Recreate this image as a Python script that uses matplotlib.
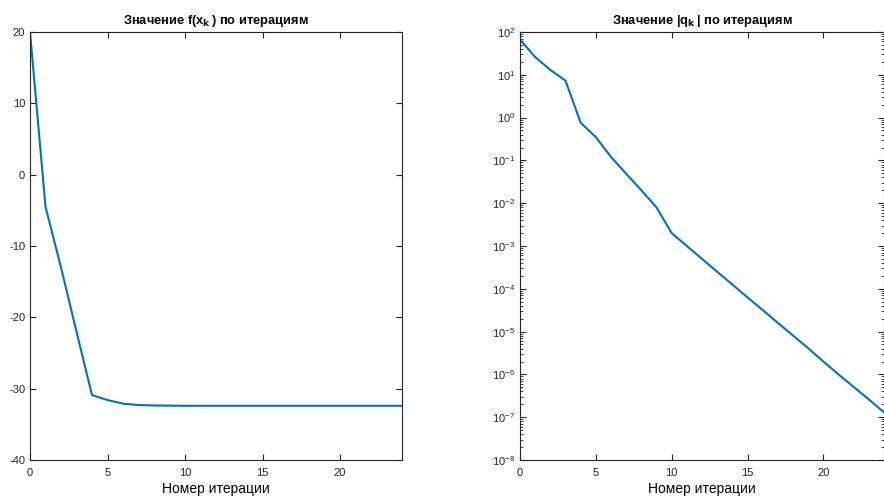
import matplotlib.pyplot as plt
from matplotlib.ticker import LogLocator, NullFormatter

plt.rcParams['font.family'] = ['Liberation Sans', 'DejaVu Sans']
plt.rcParams['axes.unicode_minus'] = False

# данные по итерациям
iters = list(range(25))
f_vals = [20.0, -4.5, -13.0, -22.0, -30.9, -31.6, -32.1, -32.3, -32.35, -32.38,
          -32.4, -32.4, -32.4, -32.4, -32.4, -32.4, -32.4, -32.4, -32.4, -32.4,
          -32.4, -32.4, -32.4, -32.4, -32.4]
q_vals = [67.0, 26.0, 13.0, 7.3, 0.76, 0.35, 0.12, 0.049, 0.020, 0.0080,
          2.0e-3, 1.0e-3, 5.0e-4, 2.5e-4, 1.26e-4, 6.3e-5, 3.2e-5, 1.6e-5, 8.1e-6,
          4.1e-6, 2.0e-6, 1.0e-6, 5.1e-7, 2.6e-7, 1.3e-7]

blue = '#0072BD'
gray = '#262626'

fig = plt.figure(figsize=(8.84, 4.96), dpi=100)

ax1 = fig.add_axes([30/884, 36/496, 372/884, 428/496])  # левая
ax1.plot(iters, f_vals, color=blue, lw=1.5)
ax1.set_xlim(0, 24)
ax1.set_ylim(-40, 20)
ax1.set_xticks([0, 5, 10, 15, 20])
ax1.set_yticks([-40, -30, -20, -10, 0, 10, 20])
ax1.set_title('Значение f(x$_\\mathbf{k}\\,$) по итерациям', fontsize=9.3, fontweight='bold', pad=6)
ax1.set_xlabel('Номер итерации', fontsize=10, labelpad=3)

ax2 = fig.add_axes([520/884, 36/496, 364/884, 428/496])  # правая, лог. шкала
ax2.semilogy(iters, q_vals, color=blue, lw=1.5)
ax2.set_xlim(0, 24)
ax2.set_ylim(1e-8, 1e2)
ax2.set_xticks([0, 5, 10, 15, 20])
ax2.yaxis.set_major_locator(LogLocator(base=10, numticks=20))
ax2.yaxis.set_minor_locator(LogLocator(base=10, subs=range(2, 10), numticks=20))
ax2.yaxis.set_minor_formatter(NullFormatter())
ax2.set_title('Значение |q$_\\mathbf{k}\\,$| по итерациям', fontsize=9.3, fontweight='bold', pad=6)
ax2.set_xlabel('Номер итерации', fontsize=10, labelpad=3)

for ax in (ax1, ax2):
    ax.tick_params(which='both', direction='in', top=True, right=True,
                   labelsize=8, colors=gray)
    ax.tick_params(axis='x', pad=6)
    ax.tick_params(which='major', length=4)
    ax.tick_params(which='minor', length=2)
    for s in ax.spines.values():
        s.set_color(gray)
        s.set_linewidth(0.8)

fig.savefig('out.png', dpi=100)
